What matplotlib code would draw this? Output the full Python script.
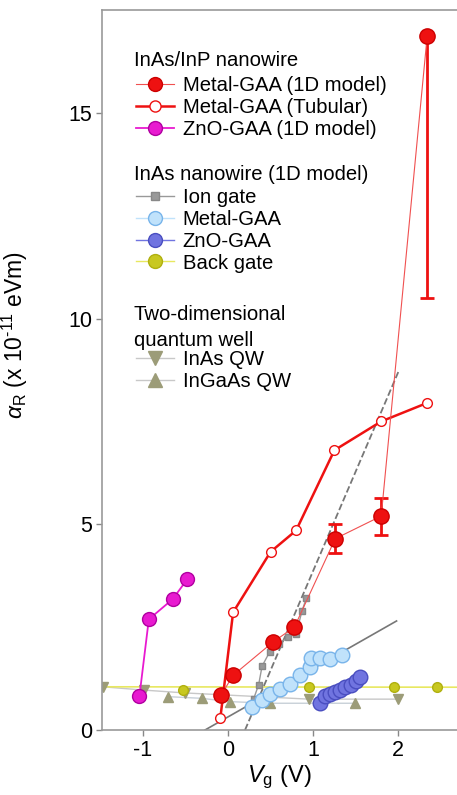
import numpy as np
import matplotlib
matplotlib.use("Agg")
import matplotlib.pyplot as plt
from matplotlib.lines import Line2D

plt.rcParams['font.family'] = ['Liberation Sans', 'DejaVu Sans']
plt.rcParams['mathtext.fontset'] = 'custom'
plt.rcParams['mathtext.rm'] = 'Liberation Sans'
plt.rcParams['mathtext.it'] = 'Liberation Sans:italic'

# InAs/InP nanowire
metal_1d_x = [-0.08, 0.06, 0.53, 0.78, 1.26, 1.8, 2.34]
metal_1d_y = [0.85, 1.33, 2.14, 2.5, 4.65, 5.2, 16.87]
metal_1d_err_lo = [0, 0, 0, 0, 0.35, 0.45, 6.37]
metal_1d_err_hi = [0, 0, 0, 0, 0.35, 0.45, 0]

tub_x = [-0.09, 0.06, 0.5, 0.8, 1.25, 1.8, 2.34]
tub_y = [0.29, 2.86, 4.33, 4.85, 6.8, 7.5, 7.95]

zno1d_x = [-1.04, -0.93, -0.65, -0.48]
zno1d_y = [0.83, 2.69, 3.18, 3.66]

# InAs nanowire (1D model)
ion_x = [0.3, 0.36, 0.4, 0.49, 0.6, 0.71, 0.8, 0.87, 0.92]
ion_y = [0.75, 1.1, 1.55, 1.9, 2.1, 2.26, 2.33, 2.9, 3.2]
ion_fit_x = [0.2, 2.0]
ion_fit_y = [0.0, 8.7]

mgaa_x = [0.28, 0.4, 0.49, 0.61, 0.73, 0.85, 0.96, 0.98, 1.08, 1.2, 1.34]
mgaa_y = [0.57, 0.74, 0.87, 0.99, 1.12, 1.33, 1.54, 1.74, 1.74, 1.72, 1.82]
mgaa_fit_x = [-0.27, 1.98]
mgaa_fit_y = [0.0, 2.65]

znogaa_x = [1.08, 1.14, 1.2, 1.26, 1.32, 1.38, 1.44, 1.5, 1.55]
znogaa_y = [0.65, 0.82, 0.88, 0.93, 0.98, 1.05, 1.1, 1.18, 1.28]

back_x = [-0.53, 0.95, 1.95, 2.45]
back_y = [0.97, 1.04, 1.04, 1.04]
back_line_x = [-1.5, 2.7]
back_line_y = [1.05, 1.04]

# 2D quantum well
inas_qw_x = [-1.47, -0.99, -0.5, 0.95, 2.0]
inas_qw_y = [1.05, 0.97, 0.9, 0.75, 0.75]
ingaas_qw_x = [-0.7, -0.31, 0.02, 0.49, 1.49]
ingaas_qw_y = [0.81, 0.77, 0.69, 0.65, 0.65]

RED = '#ee1111'
MAG = '#e81ad0'
tri_c = '#9c9c78'

W, H = 457, 795
fig = plt.figure(figsize=(W / 100, H / 100), dpi=100)
ax = fig.add_axes([102/W, 65/H, 355/W, 720/H])

# background lines (2D QW, back gate)
ax.plot(inas_qw_x, inas_qw_y, '-', color='#c8c8c8', lw=1.0, zorder=1)
ax.plot(ingaas_qw_x, ingaas_qw_y, '-', color='#c8d0d8', lw=1.0, zorder=1)
ax.plot(back_line_x, back_line_y, '-', color='#e8e860', lw=1.2, zorder=1)
ax.plot(inas_qw_x, inas_qw_y, 'v', color=tri_c, ms=7, mec=tri_c, ls='none', zorder=2)
ax.plot(ingaas_qw_x, ingaas_qw_y, '^', color=tri_c, ms=7, mec=tri_c, ls='none', zorder=2)
ax.plot(back_x, back_y, 'o', color='#c8c820', mec='#b0b010', ms=7, ls='none', zorder=2)

# fits
ax.plot(ion_fit_x, ion_fit_y, '--', color='#777777', lw=1.3, zorder=2)
ax.plot(mgaa_fit_x, mgaa_fit_y, '-', color='#777777', lw=1.2, zorder=2)

# InAs nanowire
ax.plot(ion_x, ion_y, 's-', color='#999999', mfc='#999999', mec='#888888', ms=5, lw=1.0, zorder=3)
ax.plot(mgaa_x, mgaa_y, 'o', color='#c0e2fb', mec='#78b4ea', ms=10.5, ls='none', zorder=3)
ax.plot(znogaa_x, znogaa_y, 'o', color='#7074e0', mec='#4a4ec0', ms=10.5, ls='none', zorder=3)

# InAs/InP nanowire
ax.plot(tub_x, tub_y, 'o-', color=RED, mfc='white', mec=RED, ms=7, lw=1.8, zorder=4)
ax.errorbar(metal_1d_x, metal_1d_y, yerr=[metal_1d_err_lo, metal_1d_err_hi], fmt='none',
            ecolor=RED, elinewidth=2, capsize=5, capthick=2, zorder=4)
ax.plot(metal_1d_x, metal_1d_y, 'o-', color='#f05050', mfc=RED, mec='#cc0000', ms=11, lw=0.8, zorder=5)
ax.plot(zno1d_x, zno1d_y, 'o-', color=MAG, mfc=MAG, mec='#b000a0', ms=10, lw=1.3, zorder=5)

ax.set_xlim(-1.48, 2.69)
ax.set_ylim(0, 17.5)
ax.set_xticks([-1, 0, 1, 2])
ax.set_yticks([0, 5, 10, 15])
ax.set_xticklabels(['-1', '0', '1', '2'])
ax.tick_params(direction='out', length=4, width=1, color='#888888', labelsize=15.5, pad=3)
for s in ['left', 'bottom', 'top']:
    ax.spines[s].set_color('#999999')
    ax.spines[s].set_linewidth(1.2)
ax.spines['right'].set_visible(False)

ax.set_xlabel(r'$\it{V}$$_{\rm g}$ (V)', fontsize=17, labelpad=2)
ax.set_ylabel(r'$\alpha_{\rm R}$ (x 10$^{\text{-11}}$ eVm)', fontsize=16.5)
ax.yaxis.set_label_coords(-0.203, 0.549)

# legends: group titles as text, entries as frameless legends
fs = 14.6
def px(x, y):
    return (x / W, 1 - y / H)

common = dict(loc='upper left', frameon=False, fontsize=fs, handlelength=1.85, handletextpad=0.45,
              labelspacing=0.14, borderpad=0, borderaxespad=0, bbox_transform=fig.transFigure)

for label, y in [('InAs/InP nanowire', 61), ('InAs nanowire (1D model)', 175),
                 ('Two-dimensional', 315), ('quantum well', 340)]:
    fig.text(*px(134, y), label, fontsize=fs, va='center', ha='left')

h1 = [Line2D([], [], color='#f05050', lw=0.8, marker='o', mfc=RED, mec='#cc0000', ms=10),
      Line2D([], [], color=RED, lw=1.8, marker='o', mfc='white', mec=RED, ms=8),
      Line2D([], [], color=MAG, lw=1.3, marker='o', mfc=MAG, mec='#b000a0', ms=10)]
lg1 = ax.legend(h1, ['Metal-GAA (1D model)', 'Metal-GAA (Tubular)', 'ZnO-GAA (1D model)'],
                bbox_to_anchor=px(136, 76), **common)
ax.add_artist(lg1)
h2 = [Line2D([], [], color='#999999', lw=1.0, marker='s', mfc='#999999', mec='#888888', ms=6),
      Line2D([], [], color='#c0e2fb', lw=1.0, marker='o', mfc='#c0e2fb', mec='#78b4ea', ms=10),
      Line2D([], [], color='#7074e0', lw=1.0, marker='o', mfc='#7074e0', mec='#4a4ec0', ms=10),
      Line2D([], [], color='#e8e860', lw=1.0, marker='o', mfc='#c8c820', mec='#b0b010', ms=10)]
lg2 = ax.legend(h2, ['Ion gate', 'Metal-GAA', 'ZnO-GAA', 'Back gate'],
                bbox_to_anchor=px(136, 188), **common)
ax.add_artist(lg2)
h3 = [Line2D([], [], color='#c8c8c8', lw=1.0, marker='v', mfc=tri_c, mec=tri_c, ms=10),
      Line2D([], [], color='#c8c8c8', lw=1.0, marker='^', mfc=tri_c, mec=tri_c, ms=10)]
lg3 = ax.legend(h3, ['InAs QW', 'InGaAs QW'], bbox_to_anchor=px(136, 350), **common)

fig.savefig('out.png', dpi=100)
